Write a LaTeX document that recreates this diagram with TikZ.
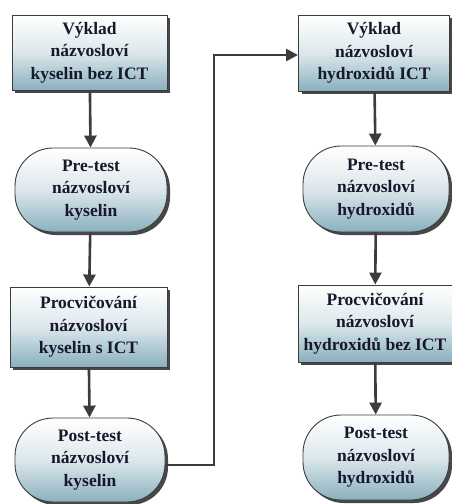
\documentclass[tikz,border=0pt]{standalone}
\usepackage{fontspec}
\setmainfont{Liberation Serif}
\usetikzlibrary{arrows.meta,shadows,shapes.misc}
\definecolor{shadeblue}{RGB}{138,176,190}
\definecolor{txt}{RGB}{24,24,44}
\definecolor{edgecol}{RGB}{60,60,60}
\tikzset{
  base/.style={draw=edgecol, line width=0.9pt, align=center, text=txt,
    font=\bfseries\fontsize{17.5}{22.5}\selectfont, inner sep=0pt,
    top color=white, bottom color=shadeblue, middle color=white!70!shadeblue,
    drop shadow={shadow xshift=3pt, shadow yshift=-3pt, opacity=0.9, fill=black!80}},
  stepbox/.style={base, rectangle},
  termbox/.style={base, rectangle, rounded corners=38pt},
  conn/.style={draw=edgecol, line width=2.6pt, -{Triangle[length=12pt,width=12pt]}},
}
\begin{document}
\begin{tikzpicture}[x=1pt,y=-1pt]
\useasboundingbox (0,0) rectangle (452,504);
\node[stepbox, minimum width=155pt, minimum height=75pt] (b1) at (89.5,52.5) {Výklad\\názvosloví\\kyselin bez ICT};
\node[termbox, minimum width=152pt, minimum height=84pt] (e1) at (91,190) {Pre-test\\názvosloví\\kyselin};
\node[stepbox, minimum width=157pt, minimum height=80pt] (b2) at (88.5,327) {Procvičování\\názvosloví\\kyselin s ICT};
\node[termbox, minimum width=150pt, minimum height=84pt] (e2) at (90,460) {Post-test\\názvosloví\\kyselin};
\node[stepbox, minimum width=151pt, minimum height=76pt] (b3) at (374,53) {Výklad\\názvosloví\\hydroxidů ICT};
\node[termbox, minimum width=146pt, minimum height=86pt] (e3) at (376,189) {Pre-test\\názvosloví\\hydroxidů};
\node[stepbox, minimum width=154pt, minimum height=77pt] (b4) at (375,323.5) {Procvičování\\názvosloví\\hydroxidů bez ICT};
\node[termbox, minimum width=146pt, minimum height=85pt] (e4) at (376,457.5) {Post-test\\názvosloví\\hydroxidů};
\coordinate (c1) at (214,465);
\coordinate (c2) at (214,55);
\draw[conn] (b1) -- (e1);
\draw[conn] (e1) -- (b2);
\draw[conn] (b2) -- (e2);
\draw[conn] (e2.east |- c1) -- (c1) -- (c2) -- (c2 -| b3.west);
\draw[conn] (b3) -- (e3);
\draw[conn] (e3) -- (b4);
\draw[conn] (b4) -- (e4);
\end{tikzpicture}
\end{document}
